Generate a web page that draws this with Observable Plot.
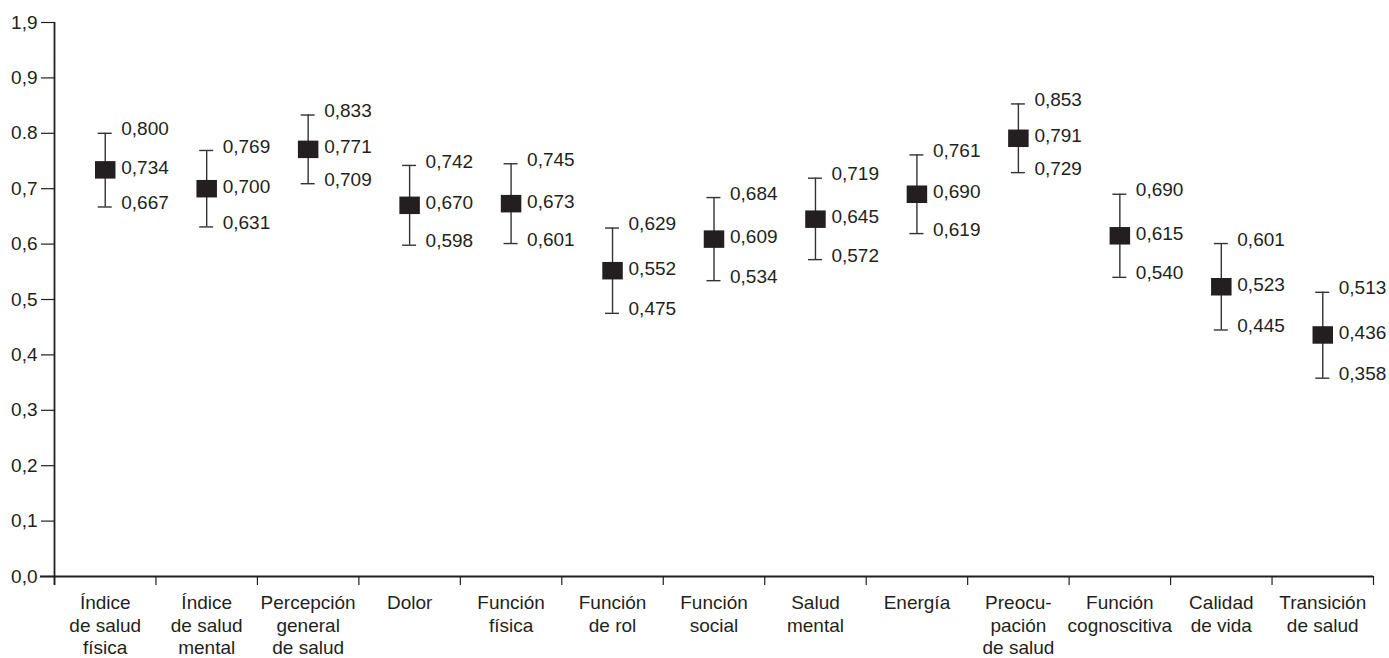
<!DOCTYPE html>
<html>
<head>
<meta charset="utf-8">
<script src="https://cdn.jsdelivr.net/npm/d3@7"></script>
<script src="https://cdn.jsdelivr.net/npm/@observablehq/plot@0.6"></script>
<style>
  html, body { margin: 0; padding: 0; background: #fff; }
  #chart svg { display: block; }
</style>
</head>
<body>
<div id="chart"></div>
<script>
// Dimensions of the health-related quality of life questionnaire
const categories = [
  "Índice\nde salud\nfísica",
  "Índice\nde salud\nmental",
  "Percepción\ngeneral\nde salud",
  "Dolor",
  "Función\nfísica",
  "Función\nde rol",
  "Función\nsocial",
  "Salud\nmental",
  "Energía",
  "Preocu-\npación\nde salud",
  "Función\ncognoscitiva",
  "Calidad\nde vida",
  "Transición\nde salud"
];

// Mean score and the bounds of its interval for each dimension
const means  = [0.734, 0.700, 0.771, 0.670, 0.673, 0.552, 0.609, 0.645, 0.690, 0.791, 0.615, 0.523, 0.436];
const lowers = [0.667, 0.631, 0.709, 0.598, 0.601, 0.475, 0.534, 0.572, 0.619, 0.729, 0.540, 0.445, 0.358];
const uppers = [0.800, 0.769, 0.833, 0.742, 0.745, 0.629, 0.684, 0.719, 0.761, 0.853, 0.690, 0.601, 0.513];

// Vertical axis ticks and their printed labels
const yTickValues = [0, 0.1, 0.2, 0.3, 0.4, 0.5, 0.6, 0.7, 0.8, 0.9, 1.0];
const yTickLabels = ["0,0", "0,1", "0,2", "0,3", "0,4", "0,5", "0,6", "0,7", "0.8", "0,9", "1,9"];

// One slot per dimension on a linear x scale: the dimension sits in the middle of its slot
const rows = categories.map((name, i) => ({
  pos: i + 0.5,
  name,
  mean: means[i],
  lower: lowers[i],
  upper: uppers[i]
}));
const slotEdges = d3.range(0, categories.length + 1);

const fmt = v => d3.format(".3f")(v).replace(".", ",");
const ink = "#231f20";

// Slightly wider-than-tall filled box used for the means
const meanBox = {
  draw(context) {
    context.rect(-10.25, -8.75, 20.5, 17.5);
  }
};

const chart = Plot.plot({
  width: 1389,
  height: 658,
  marginTop: 22,
  marginBottom: 82,
  marginLeft: 54,
  marginRight: 16,
  style: {
    fontFamily: "'Liberation Sans', Arial, Helvetica, sans-serif",
    fontSize: "19px",
    color: ink,
    background: "#fff",
    overflow: "visible"
  },
  x: { domain: [0, categories.length] },
  y: { domain: [0, 1] },
  marks: [
    // y axis with its ticks and labels
    Plot.axisY({
      ticks: yTickValues,
      tickFormat: d => yTickLabels[yTickValues.findIndex(t => Math.abs(t - d) < 1e-9)],
      tickSize: 13,
      tickPadding: 4,
      fontSize: 19,
      strokeWidth: 1.2,
      label: null
    }),
    // boundary ticks between dimensions
    Plot.axisX({
      ticks: slotEdges,
      tickSize: 9,
      tickFormat: () => "",
      strokeWidth: 1.2,
      label: null
    }),
    // dimension names
    Plot.axisX({
      ticks: rows.map(d => d.pos),
      tickSize: 0,
      tickPadding: 17,
      tickFormat: p => categories[Math.floor(p)],
      lineHeight: 1.18,
      fontSize: 19,
      label: null
    }),
    // axis lines
    Plot.ruleX([0], { stroke: ink, strokeWidth: 1.8, insetBottom: -9 }),
    Plot.ruleY([0], { stroke: ink, strokeWidth: 1.8, insetLeft: -14 }),
    // interval whiskers
    Plot.ruleX(rows, { x: "pos", y1: "lower", y2: "upper", stroke: "#333", strokeWidth: 1.4 }),
    Plot.ruleY(rows, { x1: "pos", x2: "pos", y: "upper", stroke: "#333", strokeWidth: 1.4, insetLeft: -7, insetRight: -7 }),
    Plot.ruleY(rows, { x1: "pos", x2: "pos", y: "lower", stroke: "#333", strokeWidth: 1.4, insetLeft: -7, insetRight: -7 }),
    // means
    Plot.dot(rows, { x: "pos", y: "mean", symbol: meanBox, fill: ink, stroke: "none" }),
    // value labels
    Plot.text(rows, { x: "pos", y: "upper", text: d => fmt(d.upper), dx: 16, dy: -4, textAnchor: "start", fontSize: 19, fill: ink }),
    Plot.text(rows, { x: "pos", y: "mean", text: d => fmt(d.mean), dx: 16, dy: -2, textAnchor: "start", fontSize: 19, fill: ink }),
    Plot.text(rows, { x: "pos", y: "lower", text: d => fmt(d.lower), dx: 16, dy: -4, textAnchor: "start", fontSize: 19, fill: ink })
  ]
});

document.getElementById("chart").appendChild(chart);
</script>
</body>
</html>
